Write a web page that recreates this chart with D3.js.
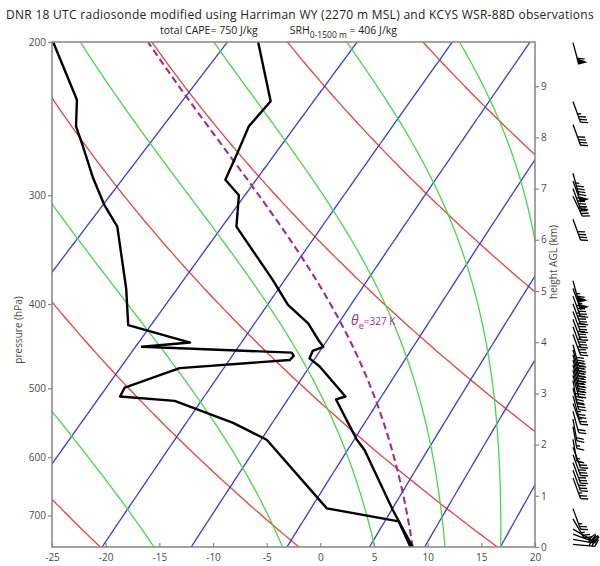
<!DOCTYPE html>
<html>
<head>
<meta charset="utf-8">
<title>DNR 18 UTC skew-T</title>
<script src="https://cdn.jsdelivr.net/npm/d3@7"></script>
<style>
  body { margin: 0; background: #fff; }
  svg text { font-family: "Open Sans", "DejaVu Sans", sans-serif; }
</style>
</head>
<body>
<svg id="skewt" width="600" height="566"></svg>
<script>
// sounding (hPa, degC)
var tempP = [200, 234, 250, 268, 288, 300, 326, 375, 401, 421, 440, 448, 453, 462, 472, 511, 515, 553, 573, 589, 690, 761];
var tempC = [-52.9, -46.2, -45.9, -44.5, -43.1, -40.4, -37.7, -29.4, -25.6, -22.0, -19.5, -18.4, -19.0, -18.6, -16.9, -11.7, -12.3, -8.5, -6.6, -4.9, 3.3, 8.6];
var dewP = [200, 233, 250, 263, 286, 308, 326, 384, 423, 443, 448, 455, 459, 464, 474, 499, 511, 517, 548, 573, 687, 711, 761];
var dewC = [-72.0, -64.4, -62.0, -59.6, -55.7, -52.0, -48.8, -42.2, -38.6, -31.2, -35.3, -20.8, -20.3, -20.3, -29.8, -33.1, -32.7, -27.2, -19.7, -15.0, -3.0, 4.9, 8.4];

// background lines
var dryTheta = [273.15, 293.15, 313.15, 333.15, 353.15, 373.15];   // K
var moistThetaE = [283, 303, 322.5, 342.5, 363.3, 383];           // K
var mixRatio = [0.1, 0.4, 1, 2, 4, 7, 10, 16];                     // g/kg

// winds: height AGL (km), direction (deg), speed (kt)
var windH   = [9.85, 8.7, 8.25, 7.3, 7.15, 7.0, 6.85, 6.4, 5.2, 5.05, 4.9, 4.75, 4.6, 4.45, 4.3, 4.15, 3.95, 3.85, 3.75, 3.65, 3.55, 3.45, 3.35, 3.25, 3.1, 2.95, 2.8, 2.65, 2.5, 2.35, 2.1, 1.95, 1.8, 1.65, 1.5, 1.35, 0.75, 0.55, 0.35, 0.25, 0.15, 0.05];
var windDir = [165, 160, 160, 165, 160, 160, 155, 160, 165, 160, 160, 160, 160, 160, 160, 160, 165, 165, 165, 165, 165, 165, 165, 170, 165, 165, 160, 165, 170, 170, 170, 160, 160, 160, 160, 160, 160, 150, 120, 110, 100, 95];
var windSpd = [60, 35, 40, 45, 50, 45, 40, 40, 65, 55, 45, 45, 40, 40, 35, 35, 40, 40, 45, 45, 40, 40, 35, 35, 30, 25, 25, 20, 20, 15, 15, 25, 30, 30, 30, 25, 25, 25, 20, 25, 25, 30];

var pTicks = [200, 300, 400, 500, 600, 700];
var tTicks = [-25, -20, -15, -10, -5, 0, 5, 10, 15, 20];
var hTicks = [0, 1, 2, 3, 4, 5, 6, 7, 8, 9];

var title = "DNR 18 UTC radiosonde modified using Harriman WY (2270 m MSL) and KCYS WSR-88D observations";
var parcelLabel = "327 K";

var P0 = 761, PTOP = 200, SKEW = 35.25;

var svg = d3.select("#skewt"),
    margin = {top: 42, right: 65, bottom: 19, left: 52},
    width = +svg.attr("width") - margin.left - margin.right,
    height = +svg.attr("height") - margin.top - margin.bottom;

var x = d3.scaleLinear().domain([-25, 20]).range([margin.left, margin.left + width]);
var y = d3.scaleLog().domain([P0, PTOP]).range([margin.top + height, margin.top]);
var hy = d3.scaleLinear().domain([0, 9.863]).range([margin.top + height, margin.top]);

function sx(T, p) { return x(T + SKEW * Math.log(P0 / p)); }
function es(T) { return 6.112 * Math.exp(17.67 * T / (T + 243.5)); }
function thetaE(T, p) {
  var r = 622 * es(T) / (p - es(T)), Tk = T + 273.15;
  return Tk * Math.pow(1000 / p, 0.2854 * (1 - 0.00028 * r)) * Math.exp((3.376 / Tk - 0.00254) * r * (1 + 0.00081 * r));
}
function moistT(te, p) {
  var lo = -130, hi = 40;
  for (var i = 0; i < 50; i++) {
    var mid = (lo + hi) / 2;
    if (thetaE(mid, p) > te) hi = mid; else lo = mid;
  }
  return (lo + hi) / 2;
}

var levels = d3.range(0, 121).map(function(i) { return P0 * Math.pow(PTOP / P0, i / 120); });
var line = d3.line().x(function(d) { return d[0]; }).y(function(d) { return d[1]; });

svg.append("defs").append("clipPath").attr("id", "plot")
  .append("rect").attr("x", margin.left).attr("y", margin.top).attr("width", width).attr("height", height);

var g = svg.append("g").attr("clip-path", "url(#plot)");

// dry adiabats
g.selectAll(".dry").data(dryTheta).enter().append("path")
  .attr("fill", "none").attr("stroke", "#e4443c").attr("stroke-width", 1.3)
  .attr("d", function(th) {
    return line(levels.map(function(p) { return [sx(th * Math.pow(p / 1000, 0.2857) - 273.15, p), y(p)]; }));
  });

// mixing ratio lines
g.selectAll(".mix").data(mixRatio).enter().append("path")
  .attr("fill", "none").attr("stroke", "#3c3cd4").attr("stroke-width", 1.3)
  .attr("d", function(w) {
    return line(levels.map(function(p) {
      var l = Math.log(w * p / (622 + w) / 6.112);
      return [sx(243.5 * l / (17.67 - l), p), y(p)];
    }));
  });

// moist adiabats
g.selectAll(".moist").data(moistThetaE).enter().append("path")
  .attr("fill", "none").attr("stroke", "#46d84a").attr("stroke-width", 1.3)
  .attr("d", function(te) {
    return line(levels.map(function(p) { return [sx(moistT(te, p), p), y(p)]; }));
  });

// parcel from the surface
var parcelTE = thetaE(tempC[tempC.length - 1], P0);
g.append("path")
  .attr("fill", "none").attr("stroke", "#9c2f8c").attr("stroke-width", 2.1).attr("stroke-dasharray", "7,4")
  .attr("d", line(levels.map(function(p) { return [sx(moistT(parcelTE, p), p), y(p)]; })));

// dewpoint and temperature
g.append("path").attr("fill", "none").attr("stroke", "#000").attr("stroke-width", 2.4).attr("stroke-linejoin", "round")
  .attr("d", line(dewP.map(function(p, i) { return [sx(dewC[i], p), y(p)]; })));
g.append("path").attr("fill", "none").attr("stroke", "#000").attr("stroke-width", 2.4).attr("stroke-linejoin", "round")
  .attr("d", line(tempP.map(function(p, i) { return [sx(tempC[i], p), y(p)]; })));

// parcel label
var lp = 421;
var lab = svg.append("text").attr("x", sx(moistT(parcelTE, lp), lp) + 10).attr("y", y(lp) + 2)
  .attr("fill", "#a0328d").attr("font-size", 10);
lab.append("tspan").attr("font-style", "italic").attr("font-size", 14).text("θ");
lab.append("tspan").attr("dy", 4).attr("font-size", 9).text("e");
lab.append("tspan").attr("dy", -4).attr("font-size", 10).text("=" + parcelLabel);

// frame
svg.append("rect").attr("x", margin.left).attr("y", margin.top).attr("width", width).attr("height", height)
  .attr("fill", "none").attr("stroke", "#858585").attr("stroke-width", 1.5);

function styleAxis(sel) {
  sel.select(".domain").remove();
  sel.selectAll(".tick line").attr("stroke", "#858585").attr("stroke-width", 1.2);
  sel.selectAll(".tick text").attr("fill", "#4a4a4a").attr("font-size", 10).attr("font-family", "Open Sans, sans-serif");
}

svg.append("g").attr("transform", "translate(" + margin.left + ",0)")
  .call(d3.axisLeft(y).tickValues(pTicks).tickFormat(d3.format("d")).tickSize(4).tickPadding(2))
  .call(styleAxis);
svg.append("g").attr("transform", "translate(0," + (margin.top + height) + ")")
  .call(d3.axisBottom(x).tickValues(tTicks).tickFormat(function(d) { return String(d); }).tickSize(-4).tickPadding(7))
  .call(styleAxis);
svg.append("g").attr("transform", "translate(" + (margin.left + width) + ",0)")
  .call(d3.axisRight(hy).tickValues(hTicks).tickFormat(d3.format("d")).tickSize(4).tickPadding(2))
  .call(styleAxis);

svg.append("text").attr("transform", "translate(22," + 330 + ") rotate(-90)")
  .attr("text-anchor", "middle").attr("font-size", 10).attr("fill", "#4a4a4a").text("pressure (hPa)");
svg.append("text").attr("transform", "translate(557," + 262 + ") rotate(-90)")
  .attr("text-anchor", "middle").attr("font-size", 10).attr("fill", "#4a4a4a").text("height AGL (km)");

// titles
svg.append("text").attr("x", 300).attr("y", 18.5).attr("text-anchor", "middle")
  .attr("font-size", 12).attr("letter-spacing", 0.28).attr("fill", "#222").text(title);
var sub = svg.append("text").attr("x", 160).attr("y", 33.5).attr("font-size", 10.5).attr("fill", "#222");
sub.append("tspan").text("total CAPE= 750 J/kg");
sub.append("tspan").attr("dx", 32).text("SRH");
sub.append("tspan").attr("dy", 4.5).attr("font-size", 8.5).text("0-1500 m");
sub.append("tspan").attr("dy", -4.5).text(" = 406 J/kg");

// wind barbs
var bx = 573, staff = 22, feather = 7;
var barbs = svg.append("g").attr("stroke", "#000").attr("stroke-width", 1.3).attr("fill", "#000");
windH.forEach(function(hk, i) {
  var a = windDir[i] * Math.PI / 180,
      ux = Math.sin(a), uy = -Math.cos(a),
      nx = uy, ny = -ux,
      x0 = bx, y0 = hy(hk),
      s = windSpd[i], pos = staff, b = barbs.append("g");
  b.append("line").attr("x1", x0).attr("y1", y0).attr("x2", x0 + ux * staff).attr("y2", y0 + uy * staff);
  while (s >= 50) {
    var p1 = [x0 + ux * pos, y0 + uy * pos], p2 = [x0 + ux * (pos - 5), y0 + uy * (pos - 5)];
    b.append("path").attr("d", "M" + p1 + "L" + [p1[0] + nx * feather, p1[1] + ny * feather] + "L" + p2 + "Z");
    pos -= 6; s -= 50;
  }
  while (s >= 10) {
    b.append("line").attr("x1", x0 + ux * pos).attr("y1", y0 + uy * pos)
      .attr("x2", x0 + ux * (pos + 3) + nx * feather).attr("y2", y0 + uy * (pos + 3) + ny * feather);
    pos -= 3; s -= 10;
  }
  if (s >= 5) {
    b.append("line").attr("x1", x0 + ux * pos).attr("y1", y0 + uy * pos)
      .attr("x2", x0 + ux * (pos + 1.5) + nx * feather / 2).attr("y2", y0 + uy * (pos + 1.5) + ny * feather / 2);
  }
});
</script>
</body>
</html>
